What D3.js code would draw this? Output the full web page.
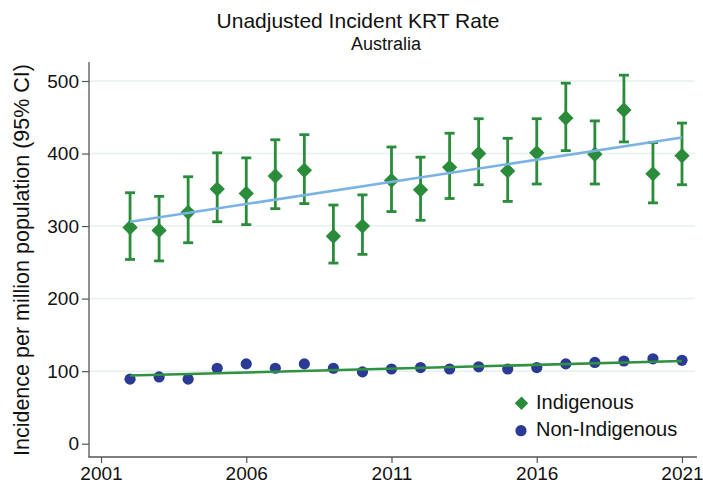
<!DOCTYPE html>
<html>
<head>
<meta charset="utf-8">
<script src="https://cdn.jsdelivr.net/npm/d3@7"></script>
<style>
  html, body { margin: 0; padding: 0; background: #fff; }
  svg { display: block; font-family: "Liberation Sans", Arial, sans-serif; }
</style>
</head>
<body>
<svg id="chart" width="703" height="490"></svg>
<script>
const years = [2002,2003,2004,2005,2006,2007,2008,2009,2010,2011,2012,2013,2014,2015,2016,2017,2018,2019,2020,2021];
const indigenous = [298,294,319,351,345,369,377,286,300,363,350,381,400,376,401,449,399,460,372,397];
const indigenousLower = [254,252,277,306,302,324,331,249,261,320,308,338,357,334,358,404,358,416,332,357];
const indigenousUpper = [346,341,368,401,394,419,426,329,343,409,395,428,448,421,448,497,445,508,415,442];
const nonIndigenous = [89,92,89,104,110,104,110,104,99,103,105,103,106,103,105,110,112,114,117,115];
const nonIndigenousLower = [86,89,86,101,107,101,107,101,96,100,102,100,103,100,102,107,109,111,114,112];
const nonIndigenousUpper = [92,95,92,107,113,107,113,107,102,106,108,106,109,106,108,113,115,117,120,118];
const fitYears = [2002, 2021];
const indigenousFit = [306, 422];
const nonIndigenousFit = [94, 114];
const xTicks = [2001, 2006, 2011, 2016, 2021];
const yTicks = [0, 100, 200, 300, 400, 500];
const legendLabels = ["Indigenous", "Non-Indigenous"];

const green = "#2a8c3b";
const navy = "#2b3a94";
const lightBlue = "#7ab3e3";
const fitGreen = "#2f9142";

const svg = d3.select("#chart");
const x = d3.scaleLinear().domain([2001, 2021]).range([101, 682]);
const y = d3.scaleLinear().domain([0, 500]).range([443.7, 81]);

// gridlines
svg.append("g").selectAll("line").data(yTicks.filter(d => d > 0)).join("line")
  .attr("x1", 89).attr("x2", 695)
  .attr("y1", d => y(d)).attr("y2", d => y(d))
  .attr("stroke", "#e6f0ee").attr("stroke-width", 1.5);

// axes
const yAxis = d3.axisLeft(y).tickValues(yTicks).tickSize(7).tickPadding(3).tickFormat(d3.format("d"));
const gy = svg.append("g").attr("transform", "translate(89,0)").call(yAxis);
gy.select(".domain").remove();
gy.append("line").attr("x1", 0).attr("x2", 0).attr("y1", 62).attr("y2", 457).attr("stroke", "#555").attr("stroke-width", 1.3);

const xAxis = d3.axisBottom(x).tickValues(xTicks).tickSize(6).tickPadding(4).tickFormat(d3.format("d"));
const gx = svg.append("g").attr("transform", "translate(0,457)").call(xAxis);
gx.select(".domain").remove();
gx.append("line").attr("x1", 88.4).attr("x2", 697).attr("y1", 0).attr("y2", 0).attr("stroke", "#555").attr("stroke-width", 1.3);

[gx, gy].forEach(g => {
  g.selectAll(".tick line").attr("stroke", "#555").attr("stroke-width", 1.2);
  g.selectAll(".tick text").attr("fill", "#111").style("font-size", "19px").style("font-family", "'Liberation Sans', Arial, sans-serif");
});

// Non-Indigenous error bars + markers
const nonIdx = d3.range(years.length);
const gNon = svg.append("g");
gNon.selectAll("circle").data(nonIdx).join("circle")
  .attr("cx", i => x(years[i])).attr("cy", i => y(nonIndigenous[i]))
  .attr("r", 5.6).attr("fill", navy);
gNon.selectAll("rect").data(nonIdx).join("rect")
  .attr("x", i => x(years[i]) - 4.5).attr("width", 9)
  .attr("y", i => y(nonIndigenousUpper[i]) - 1).attr("height", i => y(nonIndigenousLower[i]) - y(nonIndigenousUpper[i]) + 2)
  .attr("rx", 2).attr("fill", navy);

// Indigenous error bars
const idx = d3.range(years.length);
const gInd = svg.append("g");
gInd.selectAll("line.v").data(idx).join("line").attr("class", "v")
  .attr("x1", i => x(years[i])).attr("x2", i => x(years[i]))
  .attr("y1", i => y(indigenousLower[i])).attr("y2", i => y(indigenousUpper[i]))
  .attr("stroke", green).attr("stroke-width", 2.8);
["lower", "upper"].forEach(k => {
  const arr = k === "lower" ? indigenousLower : indigenousUpper;
  gInd.selectAll("line." + k).data(idx).join("line").attr("class", k)
    .attr("x1", i => x(years[i]) - 5).attr("x2", i => x(years[i]) + 5)
    .attr("y1", i => y(arr[i])).attr("y2", i => y(arr[i]))
    .attr("stroke", green).attr("stroke-width", 2.8);
});
const diamond = d3.symbol().type(d3.symbolDiamond2).size(150);
gInd.selectAll("path").data(idx).join("path")
  .attr("transform", i => `translate(${x(years[i])},${y(indigenous[i])})`)
  .attr("d", diamond).attr("fill", green);

// fit lines
const line = d3.line().x(d => x(d[0])).y(d => y(d[1]));
svg.append("path").datum(fitYears.map((yr, i) => [yr, indigenousFit[i]]))
  .attr("d", line).attr("fill", "none").attr("stroke", lightBlue).attr("stroke-width", 2.6);
svg.append("path").datum(fitYears.map((yr, i) => [yr, nonIndigenousFit[i]]))
  .attr("d", line).attr("fill", "none").attr("stroke", fitGreen).attr("stroke-width", 2.6);

// legend
const lg = svg.append("g");
lg.append("path").attr("transform", "translate(521.5,403.3)").attr("d", d3.symbol().type(d3.symbolDiamond2).size(115)).attr("fill", green);
lg.append("circle").attr("cx", 521).attr("cy", 430.7).attr("r", 5.6).attr("fill", navy);
lg.selectAll("text").data(legendLabels).join("text")
  .attr("x", 536).attr("y", (d, i) => 409 + i * 27)
  .style("font-size", "20px").attr("fill", "#111").text(d => d);

// titles
svg.append("text").attr("x", 358).attr("y", 28).attr("text-anchor", "middle")
  .style("font-size", "21px").attr("fill", "#111").text("Unadjusted Incident KRT Rate");
svg.append("text").attr("x", 386).attr("y", 50).attr("text-anchor", "middle")
  .style("font-size", "18px").attr("fill", "#111").text("Australia");

// y label
svg.append("text").attr("transform", "translate(29,260) rotate(-90)").attr("text-anchor", "middle")
  .style("font-size", "21.5px").attr("fill", "#111").text("Incidence per million population (95% CI)");
</script>
</body>
</html>
